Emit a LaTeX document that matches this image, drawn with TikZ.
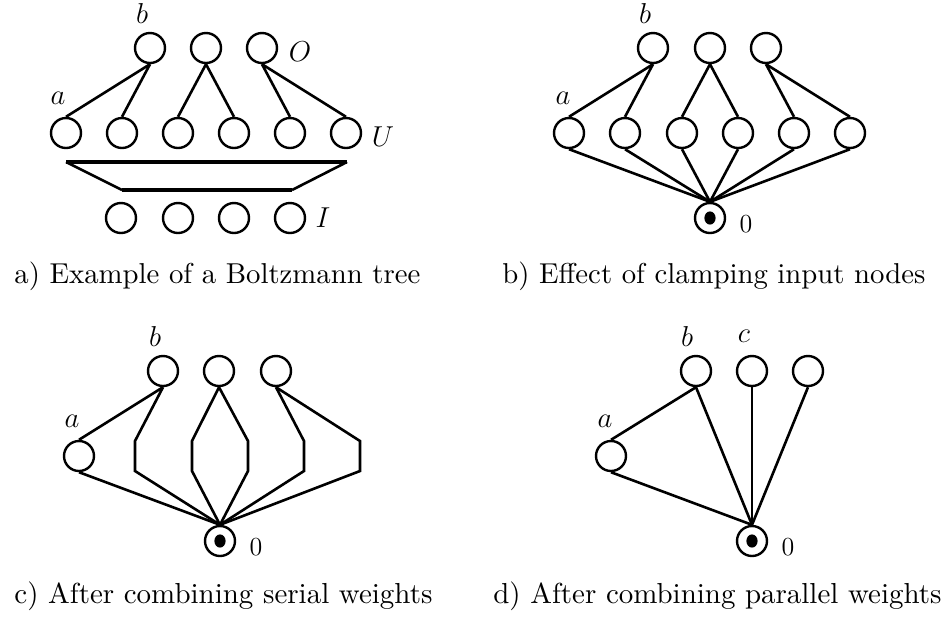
\RequirePackage{fix-cm}
\documentclass[tikz,border=0pt]{standalone}
\tikzset{
  unit/.style={circle, draw, line width=1.2pt, minimum size=15pt, inner sep=0pt},
  clampnode/.style={unit, path picture={\fill (path picture bounding box.center) ellipse (2.8pt and 3.3pt);}},
  conn/.style={line width=1.3pt},
  thickbar/.style={line width=2.2pt},
  lab/.style={inner sep=0pt, font=\fontsize{14.4}{17}\selectfont},
  zero/.style={inner sep=0pt, font=\fontsize{13}{15}\selectfont},
  captxt/.style={inner sep=0pt}
}
\begin{document}
\begin{tikzpicture}[x=0.5pt, y=-0.5pt]
\useasboundingbox (0,0) rectangle (943,623);

% ---------- panel a ----------
\node[unit] (aO1) at (150,48) {};
\node[unit] (aO2) at (206,48) {};
\node[unit] (aO3) at (262,48) {};
\foreach \i/\x in {1/66,2/122,3/178,4/234,5/290,6/346}
  \node[unit] (aU\i) at (\x,133) {};
\foreach \i/\x in {1/121,2/178,3/234,4/290}
  \node[unit] (aI\i) at (\x,218) {};
\node[lab] (alb) at (142,13) {$b$};
\node[lab] (alO) at (300,52) {$O$};
\node[lab] (ala) at (58,98) {$a$};
\node[lab] (alU) at (383,137) {$U$};
\node[lab] (alI) at (323,218) {$I$};
\draw[conn] (aO1.south) -- (aU1.north);
\draw[conn] (aO1.south) -- (aU2.north);
\draw[conn] (aO2.south) -- (aU3.north);
\draw[conn] (aO2.south) -- (aU4.north);
\draw[conn] (aO3.south) -- (aU5.north);
\draw[conn] (aO3.south) -- (aU6.north);
\coordinate (tz1) at (66,162);
\coordinate (tz2) at (347,162);
\coordinate (tz3) at (292,190);
\coordinate (tz4) at (122,190);
\draw[thickbar] (tz1) -- (tz2);
\draw[thickbar] (tz4) -- (tz3);
\draw[conn] (tz1) -- (tz4);
\draw[conn] (tz2) -- (tz3);
\node[captxt, anchor=base west] (capa) at (14,283) {\resizebox{203pt}{!}{a) Example of a Boltzmann tree}};

% ---------- panel b ----------
\node[unit] (bO1) at (653,48) {};
\node[unit] (bO2) at (710,48) {};
\node[unit] (bO3) at (766,48) {};
\foreach \i/\x in {1/569,2/625,3/682,4/738,5/794,6/850}
  \node[unit] (bU\i) at (\x,133) {};
\node[clampnode] (bK) at (710,218) {};
\node[lab] (blb) at (645,13) {$b$};
\node[lab] (bla) at (563,98) {$a$};
\node[zero] (bl0) at (746,224) {0};
\draw[conn] (bO1.south) -- (bU1.north);
\draw[conn] (bO1.south) -- (bU2.north);
\draw[conn] (bO2.south) -- (bU3.north);
\draw[conn] (bO2.south) -- (bU4.north);
\draw[conn] (bO3.south) -- (bU5.north);
\draw[conn] (bO3.south) -- (bU6.north);
\foreach \i in {1,...,6}
  \draw[conn] (bU\i.south) -- (bK.north);
\node[captxt, anchor=base west] (capb) at (502,283) {\resizebox{211.5pt}{!}{b) Effect of clamping input nodes}};

% ---------- panel c ----------
\node[unit] (cO1) at (163,371) {};
\node[unit] (cO2) at (219,371) {};
\node[unit] (cO3) at (276,371) {};
\node[unit] (cA) at (79,456) {};
\node[clampnode] (cK) at (220,541) {};
\node[lab] (clb) at (155,336) {$b$};
\node[lab] (cla) at (72,421) {$a$};
\node[zero] (cl0) at (256,547) {0};
\foreach \i/\x in {2/135,3/192,4/248,5/304,6/360}{
  \coordinate (cT\i) at (\x,441);
  \coordinate (cB\i) at (\x,471);
}
\draw[conn] (cO1.south) -- (cA.north);
\draw[conn] (cA.south) -- (cK.north);
\draw[conn] (cO1.south) -- (cT2) -- (cB2) -- (cK.north);
\draw[conn] (cO2.south) -- (cT3) -- (cB3) -- (cK.north);
\draw[conn] (cO2.south) -- (cT4) -- (cB4) -- (cK.north);
\draw[conn] (cO3.south) -- (cT5) -- (cB5) -- (cK.north);
\draw[conn] (cO3.south) -- (cT6) -- (cB6) -- (cK.north);
\node[captxt, anchor=base west] (capc) at (14,603) {\resizebox{209pt}{!}{c) After combining serial weights}};

% ---------- panel d ----------
\node[unit] (dO1) at (696,371) {};
\node[unit] (dO2) at (752,371) {};
\node[unit] (dO3) at (808,371) {};
\node[unit] (dA) at (611,456) {};
\node[clampnode] (dK) at (752,541) {};
\node[lab] (dlb) at (687,336) {$b$};
\node[lab] (dlc) at (744,336) {$c$};
\node[lab] (dla) at (605,421) {$a$};
\node[zero] (dl0) at (788,547) {0};
\draw[conn] (dO1.south) -- (dA.north);
\draw[conn] (dA.south) -- (dK.north);
\draw[conn] (dO1.south) -- (dK.north);
\draw[conn] (dO2.south) -- (dK.north);
\draw[conn] (dO3.south) -- (dK.north);
\node[captxt, anchor=base west] (capd) at (493,603) {\resizebox{224pt}{!}{d) After combining parallel weights}};
\end{tikzpicture}
\end{document}
